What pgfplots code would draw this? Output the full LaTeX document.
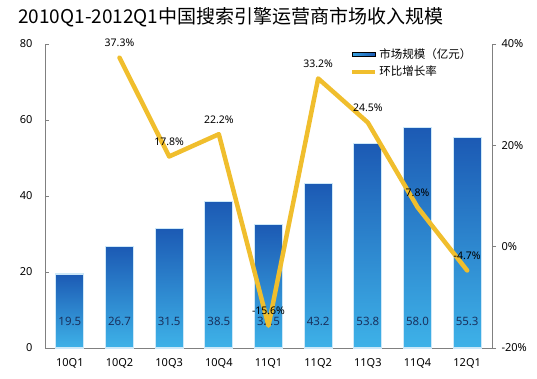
\documentclass[border=0pt]{standalone}
\usepackage{pgfplots}
\pgfplotsset{compat=1.18}
\usepackage{fontspec}
\setmainfont{Noto Sans}
\newfontfamily\cjk{Noto Sans CJK SC}
\definecolor{bartop}{RGB}{28,90,180}
\definecolor{barbot}{RGB}{62,178,232}
\definecolor{barglow}{RGB}{205,232,248}
\definecolor{linecol}{RGB}{240,190,45}
\definecolor{axgray}{RGB}{128,128,128}
\definecolor{valcol}{RGB}{25,50,95}
\pgfplotsset{onebar/.style={ybar, bar width=28pt, bar shift=0pt, draw=barglow, line width=1.2pt,
  fill=barbot,
  /tikz/path picture={\shade[path picture={}, draw=none, top color=bartop, bottom color=barbot]
     (path picture bounding box.south west) rectangle (path picture bounding box.north east);}}}
\begin{document}
\begin{tikzpicture}[x=1pt,y=1pt]
\useasboundingbox (0,0) rectangle (537,378);
\node[anchor=base west, inner sep=0, font=\cjk\fontsize{19}{22}\selectfont] at (18,354) {2010Q1-2012Q1中国搜索引擎运营商市场收入规模};
\begin{axis}[
  at={(45pt,30pt)}, anchor=south west,
  scale only axis, width=447pt, height=304pt,
  xmin=0.5, xmax=9.5, ymin=0, ymax=80,
  axis x line*=bottom, axis y line*=left,
  axis line style={axgray, line width=0.8pt, -},
  xtick={1,...,9},
  xticklabels={10Q1,10Q2,10Q3,10Q4,11Q1,11Q2,11Q3,11Q4,12Q1},
  x tick style={draw=none},
  ytick={0,20,40,60,80},
  y tick style={axgray, line width=0.8pt},
  tick align=inside, major tick length=4pt,
  tick label style={font=\fontsize{11}{13}\selectfont},
  yticklabel style={xshift=-9pt},
  xticklabel style={yshift=-7pt},
  /pgf/number format/assume math mode=true,
  clip=false,
]
\addplot[onebar] coordinates {(1,19.5)};
\addplot[onebar] coordinates {(2,26.7)};
\addplot[onebar] coordinates {(3,31.5)};
\addplot[onebar] coordinates {(4,38.5)};
\addplot[onebar] coordinates {(5,32.5)};
\addplot[onebar] coordinates {(6,43.2)};
\addplot[onebar] coordinates {(7,53.8)};
\addplot[onebar] coordinates {(8,58.0)};
\addplot[onebar] coordinates {(9,55.3)};
\addplot[draw=none, mark=none, nodes near coords, point meta=explicit symbolic,
  every node near coord/.style={anchor=center, text=valcol, font=\fontsize{11.5}{13}\selectfont}]
  coordinates {
  (1,7.0) [19.5] (2,7.0) [26.7] (3,7.0) [31.5] (4,7.0) [38.5] (5,7.0) [32.5]
  (6,7.0) [43.2] (7,7.0) [53.8] (8,7.0) [58.0] (9,7.0) [55.3]};
\end{axis}
\begin{axis}[
  at={(45pt,30pt)}, anchor=south west,
  scale only axis, width=447pt, height=304pt,
  xmin=0.5, xmax=9.5, ymin=-20, ymax=40,
  axis x line=none, axis y line*=right,
  axis line style={axgray, line width=0.8pt, -},
  ytick={-20,0,20,40},
  yticklabel={\pgfmathprintnumber{\tick}\%},
  y tick style={axgray, line width=0.8pt},
  tick align=outside, major tick length=4pt,
  tick label style={font=\fontsize{11}{13}\selectfont},
  yticklabel style={xshift=2pt},
  /pgf/number format/assume math mode=true,
  clip=false,
  legend style={draw=none, fill=none, at={(0.676,0.998)}, anchor=north west,
    font=\cjk\fontsize{11.5}{13}\selectfont, row sep=2pt,
    /tikz/every even column/.append style={column sep=2pt}},
  legend cell align=left,
]
\addlegendimage{legend image code/.code={\fill[left color=barbot!80!bartop, right color=bartop] (0pt,-2pt) rectangle (23pt,2pt);}}
\addlegendentry{市场规模（亿元）}
\addlegendimage{legend image code/.code={\draw[linecol, line width=4pt] (0pt,0pt) -- (23pt,0pt);}}
\addlegendentry{环比增长率}
\addplot[linecol, line width=4.5pt, line join=round, line cap=round, mark=none,
  nodes near coords={\pgfmathprintnumber[fixed,precision=1,fixed zerofill]{\pgfplotspointmeta}\%},
  every node near coord/.style={anchor=base, yshift=11pt, text=black, font=\fontsize{10.5}{12}\selectfont}]
  coordinates {
  (2,37.3) (3,17.8) (4,22.2) (5,-15.6) (6,33.2) (7,24.5) (8,7.8) (9,-4.7)};
\end{axis}
\end{tikzpicture}
\end{document}
